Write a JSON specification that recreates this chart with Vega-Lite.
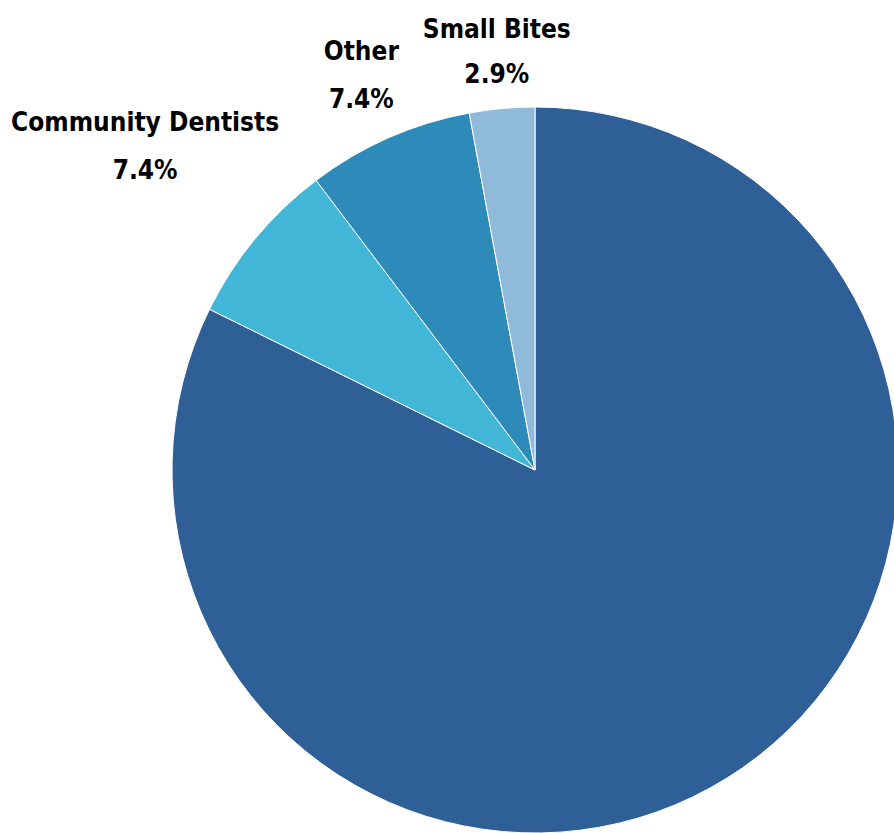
{
  "$schema": "https://vega.github.io/schema/vega-lite/v6.json",
  "width": 1070,
  "height": 940,
  "padding": 0,
  "autosize": "none",
  "background": "white",
  "view": {"stroke": null},
  "data": {"values": [
    {"category": "Main", "value": 82.3, "name": "", "pct": "82.3%"},
    {"category": "Community Dentists", "value": 7.4, "name": "Community Dentists", "pct": "7.4%"},
    {"category": "Other", "value": 7.4, "name": "Other", "pct": "7.4%"},
    {"category": "Small Bites", "value": 2.9, "name": "Small Bites", "pct": "2.9%"}
  ]},
  "encoding": {
    "theta": {"field": "value", "type": "quantitative", "stack": true},
    "order": {"field": "ord", "type": "quantitative"}
  },
  "transform": [
    {"window": [{"op": "row_number", "as": "ord"}]}
  ],
  "layer": [
    {
      "mark": {"type": "arc", "outerRadius": 363, "stroke": "white", "strokeWidth": 1},
      "encoding": {
        "color": {
          "field": "category", "type": "nominal", "legend": null,
          "scale": {
            "domain": ["Main", "Community Dentists", "Other", "Small Bites"],
            "range": ["#2E5F97", "#42B6D6", "#2E8AB8", "#8FBADA"]
          }
        }
      }
    },
    {
      "mark": {"type": "text", "radius": 506, "dy": -24, "font": "DejaVu Sans Condensed", "fontWeight": "bold", "fontSize": 26, "fill": "black"},
      "encoding": {"text": {"condition": {"test": "datum.category === 'Community Dentists'", "field": "name"}, "value": ""}}
    },
    {
      "mark": {"type": "text", "radius": 506, "dy": 24, "font": "DejaVu Sans Condensed", "fontWeight": "bold", "fontSize": 26, "fill": "black"},
      "encoding": {"text": {"condition": {"test": "datum.category === 'Community Dentists'", "field": "pct"}, "value": ""}}
    },
    {
      "mark": {"type": "text", "radius": 431, "dy": -24, "font": "DejaVu Sans Condensed", "fontWeight": "bold", "fontSize": 26, "fill": "black"},
      "encoding": {"text": {"condition": {"test": "datum.category === 'Other'", "field": "name"}, "value": ""}}
    },
    {
      "mark": {"type": "text", "radius": 431, "dy": 24, "font": "DejaVu Sans Condensed", "fontWeight": "bold", "fontSize": 26, "fill": "black"},
      "encoding": {"text": {"condition": {"test": "datum.category === 'Other'", "field": "pct"}, "value": ""}}
    },
    {
      "mark": {"type": "text", "radius": 420, "dy": -22, "font": "DejaVu Sans Condensed", "fontWeight": "bold", "fontSize": 26, "fill": "black"},
      "encoding": {"text": {"condition": {"test": "datum.category === 'Small Bites'", "field": "name"}, "value": ""}}
    },
    {
      "mark": {"type": "text", "radius": 420, "dy": 23, "font": "DejaVu Sans Condensed", "fontWeight": "bold", "fontSize": 26, "fill": "black"},
      "encoding": {"text": {"condition": {"test": "datum.category === 'Small Bites'", "field": "pct"}, "value": ""}}
    }
  ]
}
